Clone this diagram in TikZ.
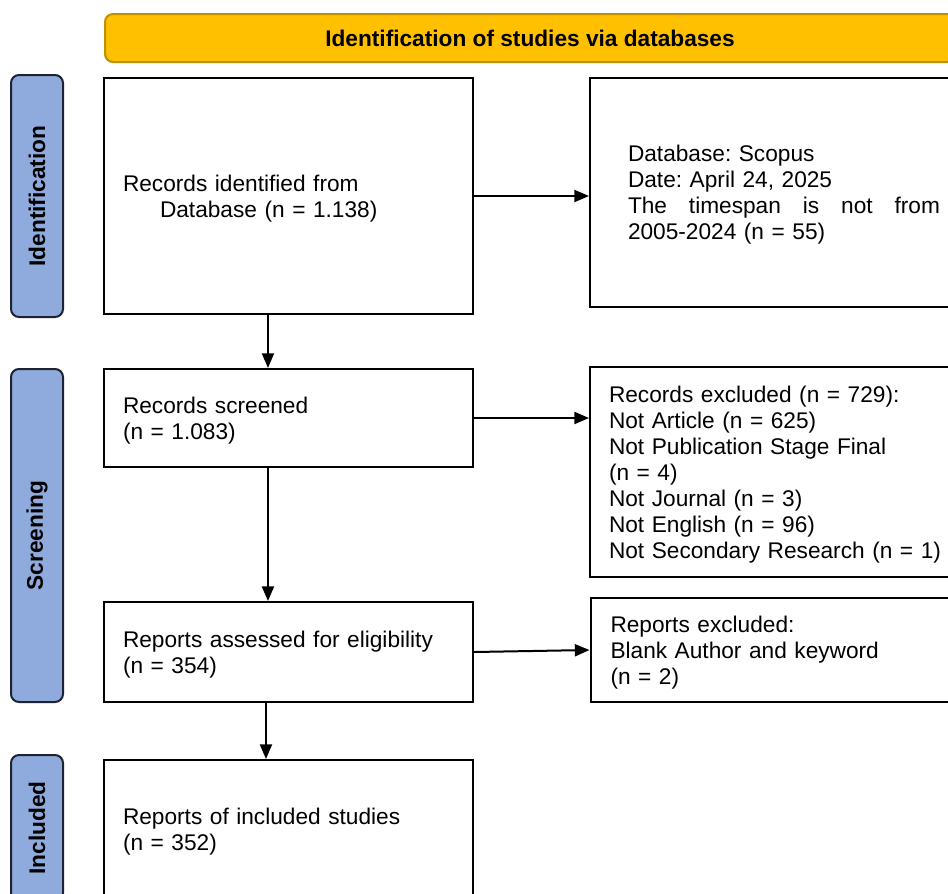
\documentclass[tikz,border=0pt]{standalone}
\usepackage{fontspec}
\setmainfont{Liberation Sans}
\usetikzlibrary{arrows.meta}
\frenchspacing

\definecolor{bannerfill}{RGB}{255,192,0}
\definecolor{bannerline}{RGB}{191,144,0}
\definecolor{stagefill}{RGB}{143,170,220}
\definecolor{stageline}{RGB}{30,35,50}

\begin{document}
\begin{tikzpicture}[x=0.75pt,y=0.75pt,yscale=-1,xscale=1,
  every node/.style={font=\fontsize{17}{19.5}\selectfont},
  banner/.style={draw=bannerline, fill=bannerfill, line width=1.5pt, rounded corners=6pt, minimum width=637.5pt, minimum height=36pt, font=\fontsize{17}{19.5}\selectfont\bfseries},
  stage/.style={draw=stageline, fill=stagefill, line width=1.5pt, rounded corners=6pt, minimum height=39pt, rotate=90, font=\fontsize{17}{19.5}\selectfont\bfseries},
  box/.style={draw, line width=1.5pt, align=left, inner xsep=14.25pt, inner ysep=0pt},
  mainbox/.style={box, minimum width=276.75pt, text width=248.25pt},
  sidebox/.style={box, minimum width=292.5pt, text width=264pt},
  flow/.style={line width=1.5pt, -{Triangle[length=11pt,width=9pt]}}]
%set diagram to 948 x 893
\useasboundingbox (0,0) rectangle (948,893);
\clip (0,0) rectangle (948,893);

%Shape: Banner
\node [banner] (title) at (530,38) {Identification of studies via databases};

%Shape: Stage bars
\node [stage, minimum width=181.5pt] (ident) at (37,196) {Identification};
\node [stage, minimum width=249.75pt] (screen) at (37,535.5) {Screening};
\node [stage, minimum width=109.5pt] (incl) at (37,828) {Included};

%Shape: Main boxes
\node [mainbox, minimum height=177pt] (records) at (288.5,196) {\rule{0pt}{16pt}Records identified from\\\hspace*{27.75pt}Database (n = 1.138)};
\node [mainbox, minimum height=73.5pt] (screened) at (288.5,418) {\rule{0pt}{16pt}Records screened\\(n = 1.083)};
\node [mainbox, minimum height=75pt] (assessed) at (288.5,652) {\rule{0pt}{16pt}Reports assessed for eligibility\\(n = 354)};
\node [mainbox, minimum height=103.5pt] (included) at (288.5,829) {\rule{0pt}{16pt}Reports of included studies\\(n = 352)};

%Shape: Side boxes
\node [sidebox, minimum height=171.75pt, inner xsep=28.5pt, text width=235.5pt] (source) at (785,192.5) {\rule{0pt}{16pt}Database: Scopus\\Date: April 24, 2025\\\leavevmode\hbox to 234pt{The\hfill timespan\hfill is\hfill not\hfill from}\\2005-2024 (n = 55)};
\node [sidebox, minimum height=157.5pt] (excluded) at (785,472) {\rule{0pt}{16pt}Records excluded (n = 729):\\Not Article (n = 625)\\Not Publication Stage Final\\(n = 4)\\Not Journal (n = 3)\\Not English (n = 96)\\Not Secondary Research (n = 1)};
\node [sidebox, minimum height=78pt, inner xsep=15pt, text width=262.5pt] (reportsex) at (785.5,650) {\rule{0pt}{16pt}Reports excluded:\\Blank Author and keyword\\(n = 2)};

%Straight Lines: arrows
\draw [flow] (records.east) -- (records.east -| source.west);
\draw [flow] (screened.east) -- (screened.east -| excluded.west);
\draw [flow] (assessed.east) -- (reportsex.west);
\draw [flow] ([xshift=-15.4pt]records.south) -- ([xshift=-15.4pt]screened.north);
\draw [flow] ([xshift=-15.4pt]screened.south) -- ([xshift=-15.4pt]assessed.north);
\draw [flow] ([xshift=-16.9pt]assessed.south) -- ([xshift=-16.9pt]included.north);

\end{tikzpicture}
\end{document}
